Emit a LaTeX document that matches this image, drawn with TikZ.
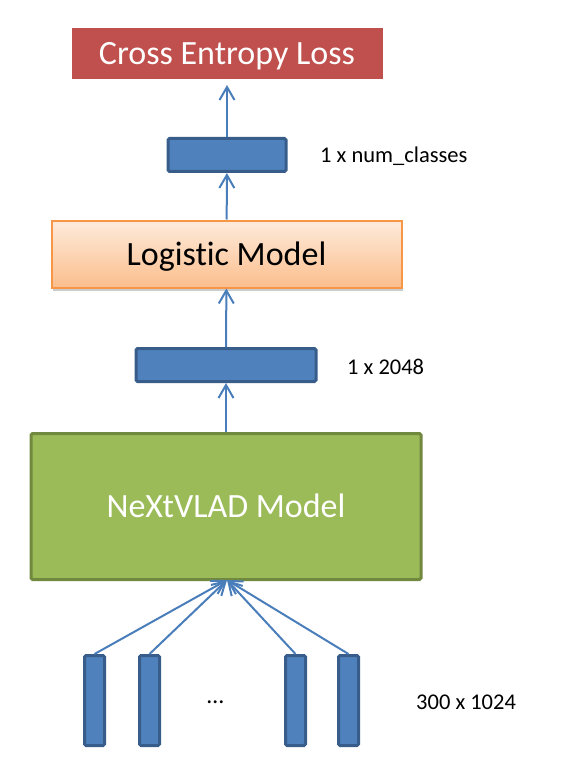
\documentclass[tikz,border=0pt]{standalone}
\usepackage{fontspec}
\setmainfont{Carlito}[Ligatures=NoCommon]
\usetikzlibrary{arrows.meta,shadows}

\definecolor{lossred}{HTML}{C0504D}
\definecolor{vecblue}{HTML}{4F81BD}
\definecolor{vecborder}{HTML}{385D8A}
\definecolor{arrowblue}{HTML}{4A7EBB}
\definecolor{logtop}{HTML}{FEEBDC}
\definecolor{logbottom}{HTML}{FBBE8C}
\definecolor{logborder}{HTML}{F79646}
\definecolor{vladgreen}{HTML}{9BBB59}
\definecolor{vladborder}{HTML}{71893F}

\begin{document}
\begin{tikzpicture}[x=1pt,y=-1pt,>={Straight Barb[length=13pt,width=15pt]},
    vec/.style={draw=vecborder,fill=vecblue,line width=3pt,rounded corners=1.5pt,inner sep=0pt},
    big/.style={inner sep=0pt,font=\fontsize{34}{41}\selectfont,text height=22pt,text depth=0pt},
    dim/.style={anchor=base west,inner sep=0pt,font=\fontsize{22.5}{27}\selectfont},
    link/.style={->,draw=arrowblue,line width=2pt}]

                \useasboundingbox (0,0) rectangle (561,762);

                \node[big,fill=lossred,draw=white,line width=6pt,text=white,minimum width=317pt,minimum height=57pt,
                      drop shadow={shadow xshift=1pt,shadow yshift=-3pt,opacity=.4}] (loss) at (227,53.5) {Cross Entropy Loss};

                \node[vec,minimum width=118pt,minimum height=33pt] (classes) at (227,155) {};

                \node[big,top color=logtop,bottom color=logbottom,draw=logborder,line width=2pt,minimum width=350pt,minimum height=67pt,
                      drop shadow={shadow xshift=1pt,shadow yshift=-3pt,opacity=.4}] (logistic) at (226.5,254) {Logistic Model};

                \node[vec,minimum width=180pt,minimum height=33pt] (feat) at (226,365) {};

                \node[big,fill=vladgreen,draw=vladborder,line width=3pt,text=white,rounded corners=1.5pt,
                      minimum width=390pt,minimum height=146pt] (vlad) at (226,506.5) {NeXtVLAD Model};

                \coordinate (hub) at (227,580);

                \node[vec,minimum width=20pt,minimum height=90pt] (f1) at (94.5,700.5) {};

                \node[vec,minimum width=20pt,minimum height=90pt] (f2) at (149.5,700.5) {};

                \node[vec,minimum width=20pt,minimum height=90pt] (f3) at (295.5,700.5) {};

                \node[vec,minimum width=20pt,minimum height=90pt] (f4) at (348.5,700.5) {};

                \node[anchor=base,font=\fontsize{24}{28}\selectfont] (dots) at (215.5,703) {\textellipsis};

                \node[dim] (classesdim) at (320,163) {1 x num\_classes};

                \node[dim] (featdim) at (347,374) {1 x 2048};

                \node[dim] (framedim) at (416,709) {300 x 1024};

                

                \draw[link] (classes) -- (loss);

                \draw[link] (logistic) -- (classes);

                \draw[link] (feat) -- (logistic);

                \draw[link] (vlad) -- (feat);

                \draw[link] (f1.north) -- (hub);

                \draw[link] (f2.north) -- (hub);

                \draw[link] (f3.north) -- (hub);

                \draw[link] (f4.north) -- (hub);

            \end{tikzpicture}
\end{document}
